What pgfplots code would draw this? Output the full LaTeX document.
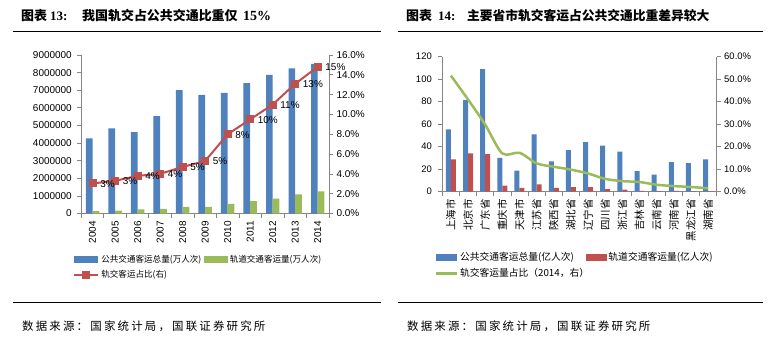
\documentclass[border=0pt]{standalone}
\usepackage{fontspec}
\usepackage{pgfplots}
\pgfplotsset{compat=1.18}
\setmainfont{Liberation Sans}
\newfontfamily\cjk{Noto Sans CJK SC}
\newfontfamily\cjksrc[LetterSpace=19]{Noto Sans CJK SC}
\newfontfamily\tnr{Liberation Serif}
\definecolor{cblue}{HTML}{4F81BD}
\definecolor{cred}{HTML}{C0504D}
\definecolor{cgreen}{HTML}{9BBB59}
\definecolor{axgray}{HTML}{868686}
\pgfkeys{/pgf/number format/assume math mode=true}
\pgfplotsset{
  base/.style={scale only axis, anchor=south west, clip=false,
    axis line style={draw=axgray, line width=0.75bp},
    tick align=outside, major tick length=4bp, minor tick length=4bp,
    tick style={draw=axgray, line width=0.75bp},
    major x tick style={draw=none},
    minor x tick style={draw=axgray, line width=0.75bp},
  },
  redlegend/.style={legend image code/.code={\draw[mark repeat=2,mark phase=2,##1] plot coordinates {(0bp,0bp) (12bp,0bp) (24bp,0bp)};}},
  greenlegend/.style={legend image code/.code={\draw[##1] (0bp,0bp) -- (21bp,0bp);}},
  bluebox/.style={legend image code/.code={\fill[cblue] (0bp,-3.2bp) rectangle (#1,3.2bp);}},
  greenbox/.style={legend image code/.code={\fill[cgreen] (0bp,-3.2bp) rectangle (#1,3.2bp);}},
  redbox/.style={legend image code/.code={\fill[cred] (0bp,-3.2bp) rectangle (#1,3.2bp);}},
}
\begin{document}
\begin{tikzpicture}[x=1bp,y=1bp]
\useasboundingbox (0,0) rectangle (774,343);
\fill[white] (0,0) rectangle (774,343);
% ---------- titles and rules
\node[anchor=base west, inner sep=0, font=\cjk\bfseries\fontsize{13}{15}\selectfont] at (21,322.5) {图表};
\node[anchor=base west, inner sep=0, font=\tnr\bfseries\fontsize{13}{15}\selectfont] at (50,322.5) {13:};
\node[anchor=base west, inner sep=0, font=\cjk\bfseries\fontsize{13}{15}\selectfont] at (82,322.5) {我国轨交占公共交通比重仅};
\node[anchor=base west, inner sep=0, font=\tnr\bfseries\fontsize{14}{15}\selectfont] at (243,322.5) {15\%};
\node[anchor=base west, inner sep=0, font=\cjk\bfseries\fontsize{13}{15}\selectfont] at (406,322.5) {图表};
\node[anchor=base west, inner sep=0, font=\tnr\bfseries\fontsize{13}{15}\selectfont] at (438,322.5) {14:};
\node[anchor=base west, inner sep=0, font=\cjk\bfseries\fontsize{12.8}{15}\selectfont] at (467,322.5) {主要省市轨交客运占公共交通比重差异较大};
\draw[black, line width=1bp] (13,311.5) -- (381,311.5);
\draw[black, line width=1bp] (398,311.5) -- (763,311.5);
\draw[black, line width=1bp] (13,41) -- (381,41);
\draw[black, line width=1bp] (398,41) -- (763,41);
\node[anchor=base west, inner sep=0, font=\cjksrc\fontsize{11.5}{13}\selectfont] at (22,12.5) {数据来源：国家统计局，国联证券研究所};
\node[anchor=base west, inner sep=0, font=\cjksrc\fontsize{11.5}{13}\selectfont] at (407,12.5) {数据来源：国家统计局，国联证券研究所};

% ---------- chart 13: bars
\begin{axis}[base, at={(81.3bp,129.5bp)}, width=247.7bp, height=158.5bp,
  xmin=-0.5, xmax=10.5, ymin=0, ymax=9000000,
  axis x line*=bottom, axis y line*=left,
  xtick={0,1,2,3,4,5,6,7,8,9,10},
  xticklabels={2004,2005,2006,2007,2008,2009,2010,2011,2012,2013,2014},
  minor xtick={-0.5,0.5,1.5,2.5,3.5,4.5,5.5,6.5,7.5,8.5,9.5,10.5},
  ytick={0,1000000,2000000,3000000,4000000,5000000,6000000,7000000,8000000,9000000},
  scaled y ticks=false,
  yticklabel style={/pgf/number format/fixed, /pgf/number format/1000 sep={}, xshift=-2bp},
  xticklabel style={rotate=90, anchor=east},
  ticklabel style={font=\fontsize{10}{12}\selectfont},
  ybar, bar width=6.7bp]
\addplot[fill=cblue, draw=none, bar shift=-3.35bp] coordinates {
 (0,4260000) (1,4830000) (2,4620000) (3,5530000) (4,7000000) (5,6730000)
 (6,6850000) (7,7410000) (8,7870000) (9,8240000) (10,8490000)};
\addplot[fill=cgreen, draw=none, bar shift=3.35bp] coordinates {
 (0,130000) (1,170000) (2,230000) (3,260000) (4,380000) (5,370000)
 (6,550000) (7,700000) (8,850000) (9,1090000) (10,1260000)};
\end{axis}
% ---------- chart 13: share line
\begin{axis}[base, at={(81.3bp,129.5bp)}, width=247.7bp, height=158.5bp,
  xmin=-0.5, xmax=10.5, ymin=0, ymax=16,
  axis y line*=right, axis x line=none, xtick=\empty,
  ytick={0,2,4,6,8,10,12,14,16},
  yticklabel={\pgfmathprintnumber[fixed,fixed zerofill,precision=1]{\tick}\%},
  ticklabel style={font=\fontsize{10}{12}\selectfont},
  legend columns=2,
  legend cell align=left,
  legend style={draw=none, fill=none, at={(rel axis cs:-0.045,-0.235)}, anchor=north west,
    font=\cjk\fontsize{8.6}{10}\selectfont, row sep=3bp,
    /tikz/every even column/.append style={column sep=1bp}}]
\addlegendimage{bluebox=23bp}
\addlegendentry{公共交通客运总量(万人次)}
\addlegendimage{greenbox=23bp}
\addlegendentry{轨道交通客运量(万人次)}
\addplot[cred, line width=2bp, mark=square*, mark size=3bp, mark options={fill=cred, draw=cred, solid}, redlegend]
 coordinates {(0,3.03) (1,3.3) (2,3.8) (3,4.0) (4,4.7) (5,5.3) (6,8.0) (7,9.5) (8,11.0) (9,13.1) (10,14.8)};
\addlegendentry{轨交客运占比(右)}
\addplot[draw=none, mark=none, forget plot, nodes near coords, point meta=explicit symbolic,
  every node near coord/.append style={anchor=west, xshift=6.5bp, yshift=-0.5bp, inner sep=1bp, font=\fontsize{10}{12}\selectfont}]
 coordinates {(0,3.03) [3\%] (1,3.3) [3\%] (2,3.8) [4\%] (3,4.0) [4\%] (4,4.7) [5\%] (5,5.3) [5\%]
  (6,8.0) [8\%] (7,9.5) [10\%] (8,11.0) [11\%] (9,13.1) [13\%] (10,14.8) [15\%]};
\end{axis}

% ---------- chart 14: bars
\begin{axis}[base, at={(442.3bp,151.3bp)}, width=274.4bp, height=135bp,
  xmin=-0.5, xmax=15.5, ymin=0, ymax=120,
  axis x line*=bottom, axis y line*=left,
  xtick={0,1,2,3,4,5,6,7,8,9,10,11,12,13,14,15},
  xticklabels={上海市,北京市,广东省,重庆市,天津市,江苏省,陕西省,湖北省,辽宁省,四川省,浙江省,吉林省,云南省,河南省,黑龙江省,湖南省},
  minor xtick={-0.5,0.5,1.5,2.5,3.5,4.5,5.5,6.5,7.5,8.5,9.5,10.5,11.5,12.5,13.5,14.5,15.5},
  ytick={0,20,40,60,80,100,120},
  xticklabel style={rotate=90, anchor=east, font=\cjk\fontsize{10.5}{12}\selectfont},
  yticklabel style={font=\fontsize{9.5}{11}\selectfont, xshift=-3bp},
  ybar, bar width=5bp]
\addplot[fill=cblue, draw=none, bar shift=-2.5bp] coordinates {
 (0,55.5) (1,81.5) (2,109) (3,30) (4,18.7) (5,51) (6,27) (7,37)
 (8,44) (9,40.9) (10,35.6) (11,18.4) (12,15.1) (13,26.4) (14,25.5) (15,28.7)};
\addplot[fill=cred, draw=none, bar shift=2.5bp] coordinates {
 (0,28.7) (1,34) (2,33.5) (3,5.3) (4,3.3) (5,6.5) (6,3.3) (7,4.1)
 (8,4.0) (9,2.4) (10,1.9) (11,0.8) (12,0.5) (13,0.7) (14,0.5) (15,0.4)};
\end{axis}
% ---------- chart 14: share line
\begin{axis}[base, at={(442.3bp,151.3bp)}, width=274.4bp, height=135bp,
  xmin=-0.5, xmax=15.5, ymin=0, ymax=60,
  axis y line*=right, axis x line=none, xtick=\empty,
  ytick={0,10,20,30,40,50,60},
  yticklabel={\pgfmathprintnumber[fixed,fixed zerofill,precision=1]{\tick}\%},
  yticklabel style={font=\fontsize{9.5}{11}\selectfont},
  legend columns=2,
  legend cell align=left,
  legend style={draw=none, fill=none, at={(rel axis cs:-0.04,-0.42)}, anchor=north west,
    font=\cjk\fontsize{9.8}{12}\selectfont, row sep=2bp,
    /tikz/every even column/.append style={column sep=-5bp}}]
\addlegendimage{bluebox=20bp}
\addlegendentry{公共交通客运总量(亿人次)}
\addlegendimage{redbox=20bp}
\addlegendentry{轨道交通客运量(亿人次)}
\addplot[cgreen, line width=2.5bp, smooth, mark=none, greenlegend]
 coordinates {(0,51.6) (1,41.0) (2,29.8) (3,17.0) (4,17.3) (5,12.6) (6,11.1) (7,9.8)
  (8,8.1) (9,5.7) (10,4.7) (11,4.3) (12,3.1) (13,2.5) (14,2.1) (15,1.5)};
\addlegendentry{轨交客运量占比（2014，右）}
\end{axis}
\end{tikzpicture}
\end{document}
